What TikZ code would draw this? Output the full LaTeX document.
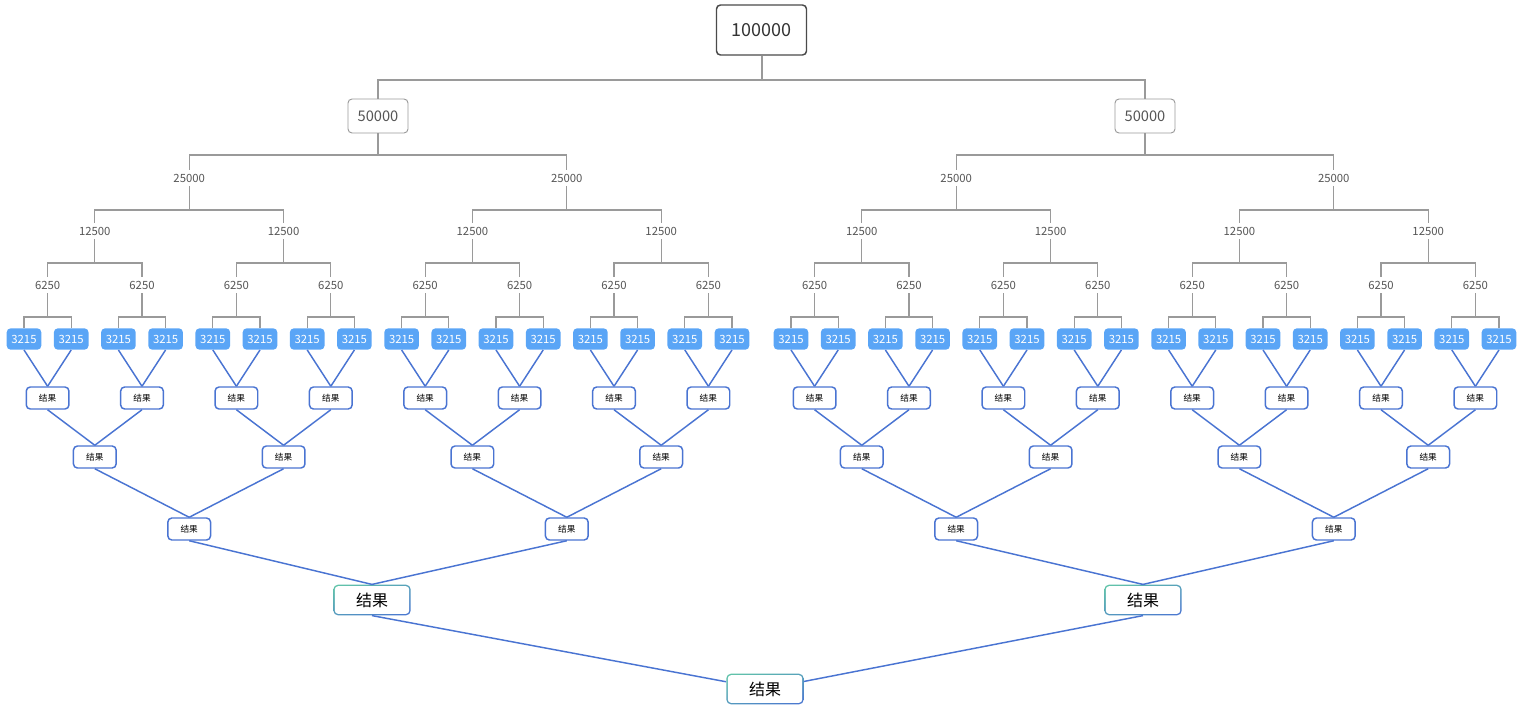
\documentclass[tikz,border=0pt]{standalone}
\usepackage{fontspec}
\setmainfont{Noto Sans CJK SC}
\usepackage{tikz}
\usepackage{xcolor}
\usetikzlibrary{positioning,calc,shadings}

\definecolor{treegray}{HTML}{9A9A9A}
\definecolor{boxdark}{HTML}{4A4A4A}
\definecolor{txtgray}{HTML}{555555}
\definecolor{leafblue}{HTML}{5AA5F6}
\definecolor{linkblue}{HTML}{4A74D2}
\definecolor{mint}{HTML}{62C6A8}

\tikzset{
  tree/.style={draw=treegray, line width=0.8pt},
  thicktree/.style={draw=treegray, line width=1.5pt},
  link/.style={draw=linkblue, line width=1.1pt},
  topbox/.style={draw=boxdark, line width=1.1pt, fill=white, rounded corners=3pt,
    minimum width=67.5pt, minimum height=37.5pt, inner sep=0pt,
    text=black!80, font=\fontsize{13.5}{16}\selectfont},
  halfbox/.style={draw=treegray, line width=0.7pt, fill=white, rounded corners=3pt,
    minimum width=45pt, minimum height=25.5pt, inner sep=0pt,
    text=txtgray, font=\fontsize{11}{13}\selectfont},
  numlabel/.style={inner sep=3pt, text=txtgray, font=\fontsize{8.5}{10}\selectfont},
  leaf/.style={fill=leafblue, rounded corners=3pt, minimum width=26pt, minimum height=16pt,
    inner sep=0pt, text=white, font=\fontsize{8.5}{10}\selectfont},
  res/.style={draw=linkblue, line width=1.1pt, fill=white, rounded corners=3pt,
    minimum width=32pt, minimum height=16.5pt, inner sep=0pt,
    font=\fontsize{6.5}{8}\selectfont},
  bigres/.style={rounded corners=3.5pt, minimum width=58pt, minimum height=23pt,
    inner sep=0pt, font=\fontsize{12}{14}\selectfont,
    path picture={
      \shade[upper left=mint, upper right=mint!55!linkblue,
             lower left=mint!45!linkblue, lower right=linkblue]
        (path picture bounding box.south west) rectangle (path picture bounding box.north east);
      \fill[white, rounded corners=2.5pt]
        ([shift={(1.1pt,1.1pt)}]path picture bounding box.south west) rectangle
        ([shift={(-1.1pt,-1.1pt)}]path picture bounding box.north east);
    }},
}

\begin{document}
\begin{tikzpicture}[x=0.75pt, y=-0.75pt,
  declare function={lx(\i)=24+47.2*\i+11.8*(\i>15);}]
\useasboundingbox (0,0) rectangle (1522,715);

% splitting
\node[topbox] (s5-0) at (761.5,30) {100000};
\node[halfbox] (s4-0) at (378,116) {50000};
\node[halfbox] (s4-1) at (1145,116) {50000};

\foreach \k/\lab/\yy in {3/25000/178, 2/12500/231, 1/6250/285}{
  \pgfmathtruncatemacro\n{32/2^\k-1}
  \foreach \j in {0,...,\n}{
    \pgfmathsetmacro\xx{(lx(\j*2^\k)+lx((\j+1)*2^\k-1))/2}
    \node[numlabel] (s\k-\j) at (\xx,\yy) {\lab};
  }
}

\foreach \i in {0,...,31}
  \node[leaf, alias=r0-\i] (s0-\i) at ({lx(\i)},339) {3215};

% merging
\foreach \k/\yy in {1/398, 2/457, 3/529}{
  \pgfmathtruncatemacro\n{32/2^\k-1}
  \foreach \j in {0,...,\n}{
    \pgfmathsetmacro\xx{(lx(\j*2^\k)+lx((\j+1)*2^\k-1))/2}
    \node[res] (r\k-\j) at (\xx,\yy) {结果};
  }
}
\node[bigres] (r4-0) at (372,600) {结果};
\node[bigres] (r4-1) at (1143,600) {结果};
\node[bigres] (r5-0) at (765,689) {结果};

% tree lines
\draw[thicktree] (s5-0.south) -- (s5-0.south |- 0,80);
\draw[thicktree] (s4-0.north) |- (s5-0.south |- 0,80) -| (s4-1.north);
\foreach \k/\by in {1/317, 2/263, 3/210, 4/155}{
  \pgfmathtruncatemacro\n{32/2^\k-1}
  \pgfmathtruncatemacro\c{\k-1}
  \foreach \j in {0,...,\n}{
    \pgfmathtruncatemacro\a{2*\j}
    \pgfmathtruncatemacro\b{2*\j+1}
    \draw[tree] (s\k-\j.south) -- (s\k-\j.south |- 0,\by);
    \draw[tree] (s\c-\a.north) |- (s\k-\j.south |- 0,\by) -| (s\c-\b.north);
  }
}

% merge lines
\foreach \k in {1,2,3,4}{
  \pgfmathtruncatemacro\n{32/2^\k-1}
  \pgfmathtruncatemacro\c{\k-1}
  \foreach \j in {0,...,\n}{
    \pgfmathtruncatemacro\a{2*\j}
    \pgfmathtruncatemacro\b{2*\j+1}
    \draw[link] (r\c-\a.south) -- (r\k-\j.north);
    \draw[link] (r\c-\b.south) -- (r\k-\j.north);
  }
}
\draw[link] (r4-0.south) -- (r5-0);
\draw[link] (r4-1.south) -- (r5-0);

\end{tikzpicture}
\end{document}
